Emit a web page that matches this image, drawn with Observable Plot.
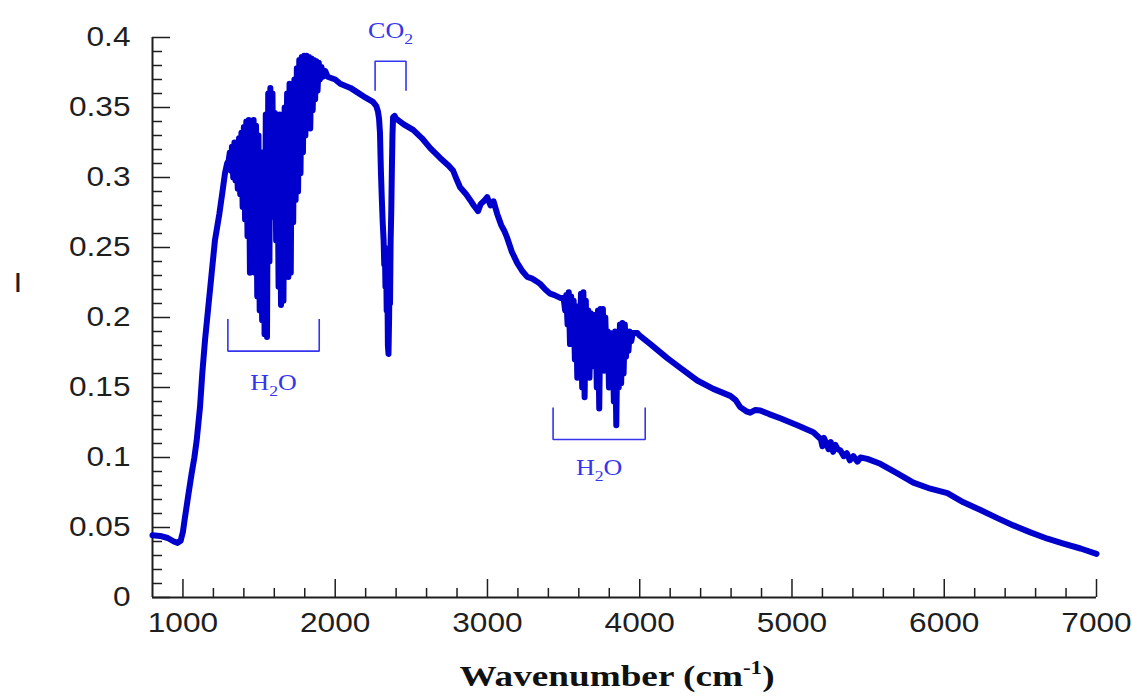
<!DOCTYPE html>
<html><head><meta charset="utf-8">
<script src="https://cdn.jsdelivr.net/npm/d3@7"></script>
<script src="https://cdn.jsdelivr.net/npm/@observablehq/plot@0.6"></script>
<style>
body{margin:0;background:#fff;}
#wrap{position:relative;width:1132px;height:700px;overflow:hidden;}
#xlabel{position:absolute;left:617px;top:661px;font-family:"Liberation Serif","Times New Roman",serif;font-weight:bold;font-size:30px;line-height:30px;white-space:nowrap;color:#111;transform:translateX(-50%) scaleX(1.24);transform-origin:center;}
#xlabel sup{font-size:0.62em;vertical-align:0;position:relative;top:-0.62em;}
</style></head>
<body><div id="wrap"><div id="chart"></div><div id="xlabel">Wavenumber (cm<sup>-1</sup>)</div></div>
<script>
// ---- data: [wavenumber (cm-1), intensity I] ----
const riseSegment = [[800,0.0445],[850,0.044],[900,0.0425],[940,0.040],[965,0.039],[985,0.0405],[1000,0.047],[1013,0.057],[1035,0.073],[1057,0.0886],[1075,0.100],[1090,0.112],[1112,0.136],[1127,0.160],[1145,0.184],[1166,0.207],[1188,0.231],[1210,0.255],[1239,0.274],[1261,0.291],[1276,0.303],[1290,0.310]];
const h2oBand1 = [[1300,0.312],[1308,0.318],[1315,0.305],[1322,0.322],[1330,0.300],[1338,0.325],[1345,0.298],[1352,0.320],[1360,0.292],[1368,0.328],[1376,0.288],[1384,0.332],[1392,0.279],[1400,0.336],[1408,0.270],[1416,0.340],[1424,0.258],[1432,0.341],[1440,0.232],[1448,0.338],[1456,0.250],[1464,0.341],[1472,0.232],[1480,0.337],[1488,0.215],[1496,0.330],[1504,0.205],[1512,0.307],[1520,0.198],[1528,0.318],[1536,0.188],[1544,0.345],[1552,0.186],[1560,0.360],[1568,0.240],[1574,0.364],[1580,0.286],[1588,0.360],[1596,0.272],[1604,0.346],[1612,0.255],[1620,0.343],[1628,0.222],[1636,0.345],[1644,0.209],[1652,0.344],[1660,0.212],[1668,0.350],[1676,0.240],[1684,0.360],[1692,0.229],[1700,0.367],[1708,0.232],[1716,0.366],[1724,0.268],[1732,0.370],[1740,0.284],[1748,0.378],[1756,0.290],[1764,0.384],[1772,0.303],[1780,0.386],[1788,0.318],[1796,0.387],[1804,0.330],[1812,0.387],[1820,0.336],[1828,0.386],[1836,0.335],[1844,0.385],[1852,0.348],[1860,0.384],[1868,0.356],[1876,0.383],[1884,0.362],[1892,0.382],[1900,0.370],[1910,0.379],[1920,0.372],[1935,0.376]];
const plateau = [[1950,0.372],[2000,0.370],[2033,0.367],[2100,0.364],[2143,0.361],[2200,0.357],[2248,0.354],[2270,0.351],[2281,0.347],[2288,0.342]];
const co2Band = [[2294,0.332],[2300,0.305],[2306,0.285],[2312,0.268],[2318,0.255],[2322,0.238],[2326,0.250],[2330,0.222],[2334,0.245],[2338,0.205],[2342,0.235],[2346,0.180],[2350,0.174],[2354,0.200],[2357,0.230],[2360,0.210],[2364,0.255],[2368,0.275],[2372,0.305],[2376,0.330],[2380,0.343],[2390,0.344]];
const descent = [[2400,0.342],[2450,0.338],[2512,0.334],[2570,0.328],[2624,0.321],[2689,0.314],[2740,0.309],[2774,0.305],[2800,0.298],[2820,0.293],[2860,0.288],[2886,0.284],[2910,0.280],[2938,0.276],[2955,0.281],[2975,0.283],[2998,0.286],[3020,0.280],[3040,0.283],[3064,0.274],[3090,0.266],[3110,0.262],[3129,0.257],[3160,0.247],[3195,0.239],[3230,0.233],[3261,0.229],[3290,0.228],[3320,0.226],[3346,0.224],[3380,0.220],[3412,0.217],[3440,0.216],[3478,0.214],[3495,0.214]];
const h2oBand2 = [[3500,0.214],[3510,0.205],[3518,0.216],[3526,0.195],[3534,0.218],[3542,0.181],[3550,0.215],[3558,0.190],[3566,0.212],[3574,0.170],[3582,0.208],[3590,0.157],[3598,0.205],[3606,0.172],[3614,0.217],[3622,0.150],[3630,0.218],[3638,0.143],[3646,0.212],[3654,0.160],[3662,0.205],[3670,0.157],[3678,0.203],[3686,0.175],[3694,0.202],[3702,0.165],[3710,0.200],[3718,0.150],[3726,0.205],[3734,0.135],[3742,0.206],[3750,0.165],[3758,0.206],[3766,0.162],[3774,0.200],[3782,0.170],[3790,0.190],[3798,0.150],[3806,0.189],[3814,0.165],[3822,0.186],[3830,0.140],[3838,0.190],[3846,0.123],[3854,0.188],[3862,0.150],[3870,0.195],[3878,0.153],[3886,0.196],[3894,0.160],[3902,0.195],[3910,0.172],[3918,0.190],[3926,0.176],[3934,0.190],[3944,0.183],[3955,0.189],[3970,0.189],[3984,0.189]];
const tail = [[4000,0.187],[4070,0.181],[4181,0.171],[4266,0.164],[4378,0.155],[4483,0.149],[4595,0.144],[4630,0.141],[4660,0.136],[4700,0.133],[4726,0.132],[4760,0.134],[4792,0.1336],[4850,0.131],[4923,0.128],[5035,0.123],[5140,0.118],[5190,0.113],[5200,0.108],[5210,0.114],[5225,0.110],[5240,0.106],[5255,0.111],[5270,0.104],[5285,0.109],[5300,0.106],[5318,0.105],[5340,0.101],[5360,0.103],[5380,0.098],[5403,0.101],[5430,0.097],[5450,0.100],[5495,0.099],[5580,0.0955],[5692,0.0886],[5797,0.082],[5909,0.0777],[6021,0.0745],[6126,0.068],[6238,0.0625],[6349,0.0567],[6454,0.0515],[6566,0.0465],[6678,0.042],[6783,0.0385],[6895,0.035],[7000,0.0312]];

// absorption band annotations
const bands = [
  {label: "H2O", from: 1295, to: 1895, tip: 0.199, base: 0.176, labelY: 0.1536},
  {label: "CO2", from: 2262, to: 2465, tip: 0.362, base: 0.383, labelY: 0.405},
  {label: "H2O", from: 3431, to: 4036, tip: 0.1357, base: 0.1129, labelY: 0.0929}
];

// ticks
const yMajor = [0, 0.05, 0.1, 0.15, 0.2, 0.25, 0.3, 0.35, 0.4];
const yMinor = [0.01,0.02,0.03,0.04,0.06,0.07,0.08,0.09,0.11,0.12,0.13,0.14,0.16,0.17,0.18,0.19,0.21,0.22,0.23,0.24,0.26,0.27,0.28,0.29,0.31,0.32,0.33,0.34,0.36,0.37,0.38,0.39];
const xMajor = [1000, 2000, 3000, 4000, 5000, 6000, 7000];
const xMinor = [1200,1400,1600,1800,2200,2400,2600,2800,3200,3400,3600,3800,4200,4400,4600,4800,5200,5400,5600,5800,6200,6400,6600,6800];

// ---- build ----
const spectrum = [...riseSegment, ...h2oBand1, ...plateau, ...co2Band, ...descent, ...h2oBand2, ...tail]
  .map(([wavenumber, intensity]) => ({wavenumber, intensity}));
const bracketPts = bands.flatMap((b, k) => [
  {k, x: b.from, y: b.tip}, {k, x: b.from, y: b.base}, {k, x: b.to, y: b.base}, {k, x: b.to, y: b.tip}
]);

const W = 1132, H = 650, mL = 152, mR = 36, mT = 37, mB = 53;
const frameW = W - mL - mR, frameH = H - mT - mB;
const axisColor = "#1e1e1e";
const annColor = "#3535ee";

const svg = Plot.plot({
  width: W, height: H,
  marginLeft: mL, marginRight: mR, marginTop: mT, marginBottom: mB,
  x: {domain: [800, 7000]},
  y: {domain: [0, 0.4]},
  style: {background: "#fff", fontFamily: "'Liberation Sans', Arial, sans-serif", overflow: "visible"},
  marks: [
    Plot.ruleY(yMinor, {y: d => d, insetRight: frameW - 10, stroke: axisColor, strokeWidth: 1.5}),
    Plot.ruleY(yMajor, {y: d => d, insetRight: frameW - 18, stroke: axisColor, strokeWidth: 1.5}),
    Plot.ruleX(xMinor, {x: d => d, insetTop: frameH - 9, stroke: axisColor, strokeWidth: 1.5}),
    Plot.ruleX(xMajor, {x: d => d, insetTop: frameH - 18, stroke: axisColor, strokeWidth: 1.5}),
    Plot.ruleX([800], {stroke: axisColor, strokeWidth: 2}),
    Plot.ruleY([0], {stroke: axisColor, strokeWidth: 2}),
    Plot.axisY(yMajor, {tickSize: 0, tickPadding: 22, fontSize: 28, tickFormat: d => String(d), label: null, fill: axisColor}),
    Plot.axisX(xMajor, {tickSize: 0, tickPadding: 15, fontSize: 28, tickFormat: d => String(d), label: null, fill: axisColor}),
    Plot.line(bracketPts, {x: "x", y: "y", z: "k", stroke: annColor, strokeWidth: 1.6, strokeLinejoin: "miter", strokeLinecap: "butt"}),
    Plot.text(bands, {x: d => (d.from + d.to) / 2, y: "labelY", text: "label", fontFamily: "'Liberation Serif', 'Times New Roman', serif", fontSize: 23, fill: annColor}),
    Plot.line(spectrum, {x: "wavenumber", y: "intensity", stroke: "#0000cd", strokeWidth: 6}),
    Plot.text(["I"], {text: d => d, frameAnchor: "left", dx: -139, dy: -34, fontSize: 28, fill: axisColor})
  ]
});

// subscripts for chemical formulas
d3.select(svg).selectAll("text").filter(function() { return /^[A-Z]+\d[A-Z]*$/.test(this.textContent); })
  .each(function() {
    const [, a, n, b] = this.textContent.match(/^([A-Z]+)(\d)([A-Z]*)$/);
    this.textContent = "";
    const s = d3.select(this);
    s.append("tspan").text(a);
    s.append("tspan").style("font-size", "68%").attr("dy", 6).text(n);
    if (b) s.append("tspan").attr("dy", -6).text(b);
  });
// the reference's lettering is slightly stretched horizontally
d3.select(svg).selectAll("text").each(function() {
  const t = this.getAttribute("transform") || "";
  this.setAttribute("transform", t + " scale(1.13,1)");
});

document.getElementById("chart").appendChild(svg);
</script></body></html>
